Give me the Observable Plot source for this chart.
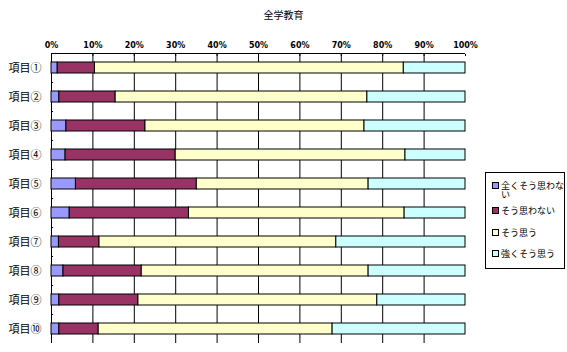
<!DOCTYPE html>
<html>
<head>
<meta charset="utf-8">
<script src="https://cdn.jsdelivr.net/npm/d3@7"></script>
<script src="https://cdn.jsdelivr.net/npm/@observablehq/plot@0.6"></script>
<style>
  body { margin: 0; background: white; }
  #wrap { position: relative; width: 567px; height: 352px; }
  #legend { position: absolute; left: 485px; top: 172px; width: 78px; height: 95px; border: 1px solid black; background: white;
    font-family: "Noto Sans CJK JP", sans-serif; font-size: 9px; line-height: 9px; }
  .item { position: absolute; left: 6px; width: 74px; display: flex; align-items: flex-start; }
  .sw { width: 5px; height: 5px; border: 1px solid black; margin-top: 1px; margin-right: 2px; flex: none; }
  .lbl { width: 65px; }
</style>
</head>
<body>
<div id="wrap"><div id="legend"></div></div>
<script>
const title = "全学教育";
const categories = ["項目①","項目②","項目③","項目④","項目⑤","項目⑥","項目⑦","項目⑧","項目⑨","項目⑩"];
const seriesNames = ["全くそう思わない","そう思わない","そう思う","強くそう思う"];
const notAtAll   = [1.5, 1.9, 3.6, 3.4, 5.9, 4.4, 1.8, 2.9, 1.9, 1.9];
const disagree   = [9.0, 13.6, 19.1, 26.6, 29.2, 28.8, 9.8, 18.9, 19.1, 9.5];
const agree      = [74.6, 60.8, 52.9, 55.5, 41.5, 52.1, 57.2, 54.8, 57.7, 56.5];
const stronglyAgree = [14.9, 23.7, 24.4, 14.5, 23.4, 14.7, 31.2, 23.4, 21.3, 32.1];
const xTicks = [0, 10, 20, 30, 40, 50, 60, 70, 80, 90, 100];
const colors = ["#9999FF", "#993366", "#FFFFCC", "#CCFFFF"];

const seriesValues = [notAtAll, disagree, agree, stronglyAgree];
const rows = [];
categories.forEach((c, i) => seriesNames.forEach((s, j) => rows.push({cat: c, series: s, value: seriesValues[j][i]})));

const halfStep = (352 - 9 - 53) / categories.length / 2;

const chart = Plot.plot({
  width: 567, height: 352,
  marginLeft: 51, marginRight: 102, marginTop: 53, marginBottom: 9,
  style: {fontFamily: "'Noto Sans CJK JP', sans-serif", background: "white", color: "black"},
  x: {domain: [0, 100], axis: null, label: null},
  y: {domain: categories, paddingInner: 0.62, paddingOuter: 0.31, axis: null, label: null},
  color: {domain: seriesNames, range: colors},
  marks: [
    Plot.ruleX(xTicks.filter(d => d < 100), {stroke: "black", strokeWidth: 1}),
    Plot.ruleY([categories[0]], {x1: 0, x2: 100, dy: -halfStep, stroke: "black"}),
    Plot.ruleY(categories.slice(1), {x1: 0, x2: 0.5, dy: -halfStep, stroke: "black"}),
    Plot.axisX({anchor: "top", label: null, ticks: xTicks, tickFormat: d => d + "%", tickSize: -2, tickPadding: 8, fontSize: 8, fontFamily: "DejaVu Sans", fontWeight: "bold"}),
    Plot.axisY({anchor: "left", label: null, tickSize: 0, tickPadding: 10, fontSize: 11}),
    Plot.barX(rows, Plot.stackX({y: "cat", x: "value", fill: "series", stroke: "black", strokeWidth: 1, order: null})),
    Plot.text([title], {frameAnchor: "top", dx: 25, dy: -38, lineAnchor: "middle", fontSize: 10})
  ]
});
document.getElementById("wrap").prepend(chart);

const legend = document.getElementById("legend");
const tops = [8, 33, 55, 76];
seriesNames.forEach((s, j) => {
  const it = document.createElement("div");
  it.className = "item";
  it.style.top = tops[j] + "px";
  const sw = document.createElement("div");
  sw.className = "sw";
  sw.style.background = colors[j];
  const lb = document.createElement("div");
  lb.className = "lbl";
  lb.textContent = s;
  it.append(sw, lb);
  legend.append(it);
});
</script>
</body>
</html>
